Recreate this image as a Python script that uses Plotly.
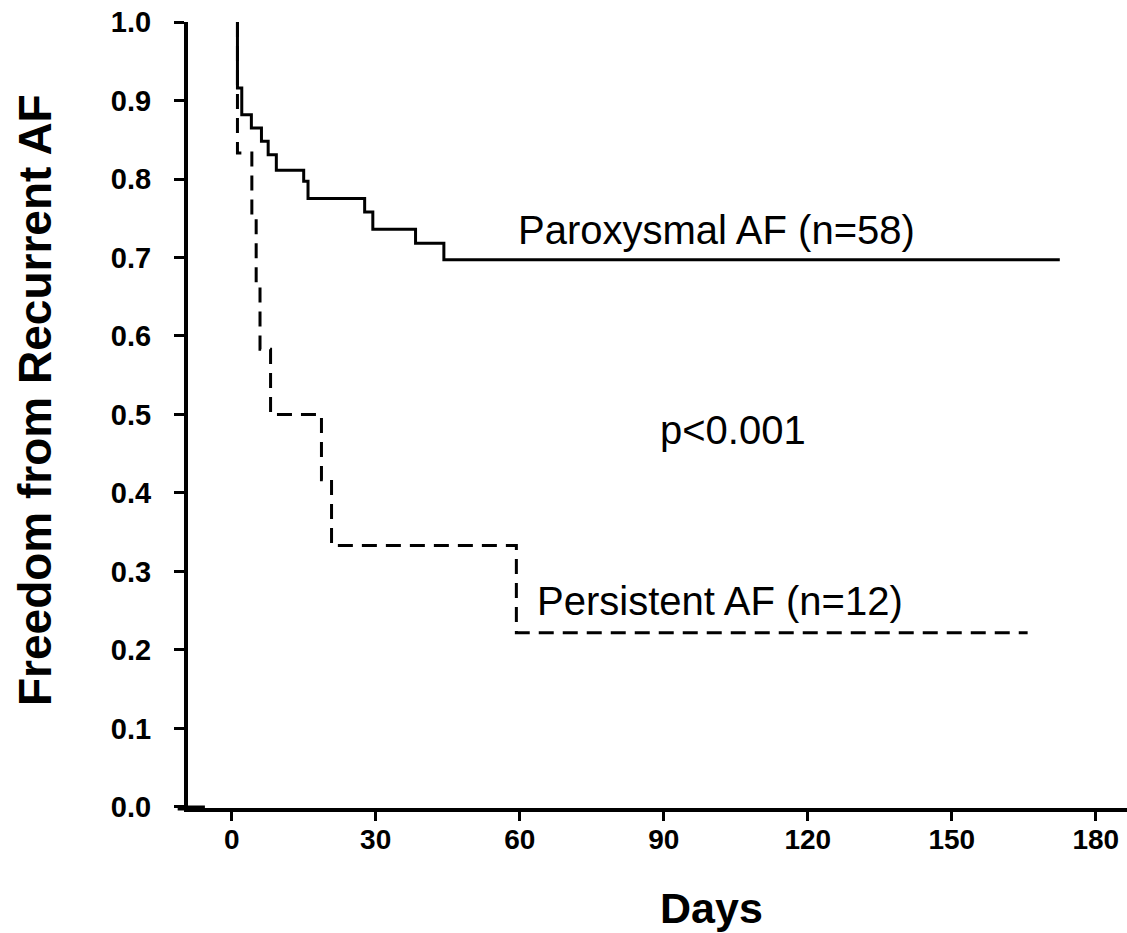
import plotly.graph_objects as go

# Paroxysmal AF (n=58) Kaplan-Meier steps (days, survival)
par_days = [1.2, 1.2, 2.1, 4.1, 6.2, 7.6, 9.3, 15.0, 15.9, 27.7, 29.4, 38.3, 44.2, 172.5]
par_surv = [1.0, 0.916, 0.882, 0.865, 0.848, 0.831, 0.811, 0.797, 0.775, 0.758, 0.736, 0.718, 0.697, 0.697]

# Persistent AF (n=12)
per_days = [1.2, 1.2, 4.2, 5.1, 5.9, 8.1, 18.7, 20.8, 59.3, 165.8]
per_surv = [1.0, 0.833, 0.75, 0.667, 0.583, 0.5, 0.417, 0.333, 0.222, 0.222]

x_ticks = [0, 30, 60, 90, 120, 150, 180]
y_ticks = [0.0, 0.1, 0.2, 0.3, 0.4, 0.5, 0.6, 0.7, 0.8, 0.9, 1.0]
y_ticktext = ["%.1f" % v for v in y_ticks]

FONT = "Liberation Sans, Arial, sans-serif"

fig = go.Figure()
fig.add_trace(go.Scatter(x=par_days, y=par_surv, mode="lines", line_shape="hv",
                         line=dict(color="black", width=3), name="Paroxysmal AF (n=58)"))
fig.add_trace(go.Scatter(x=per_days, y=per_surv, mode="lines", line_shape="hv",
                         line=dict(color="black", width=3, dash="15px,9px"), name="Persistent AF (n=12)"))

fig.update_layout(
    width=1127, height=933,
    margin=dict(l=188, r=0, t=22, b=125, autoexpand=False),
    paper_bgcolor="white", plot_bgcolor="white",
    showlegend=False,
    font=dict(family=FONT, color="black"),
)
fig.update_xaxes(range=[-9.1, 186.5], tickvals=x_ticks, showgrid=False, zeroline=False,
                 showline=True, linecolor="black", linewidth=4, automargin=False,
                 ticks="outside", ticklen=9, tickwidth=3, tickcolor="black",
                 tickfont=dict(size=28, family=FONT, weight="bold", color="black"),
                 ticklabelstandoff=-6)
fig.update_yaxes(range=[-0.0013, 1.0], tickvals=y_ticks, ticktext=y_ticktext, showgrid=False, zeroline=False,
                 showline=True, linecolor="black", linewidth=4, automargin=False,
                 ticks="outside", ticklen=10, tickwidth=3, tickcolor="black",
                 tickfont=dict(size=29, family=FONT, weight="bold", color="black"),
                 ticklabelstandoff=17)

# x-axis stub extending left of the y-axis
fig.add_shape(type="line", xref="paper", yref="paper", x0=-0.011, x1=0.018, y0=0, y1=0,
              line=dict(color="black", width=5))

anns = [
    dict(x=100.9, y=0.735, xref="x", yref="y", text="Paroxysmal AF (n=58)", font=dict(size=40)),
    dict(x=104.4, y=0.480, xref="x", yref="y", text="p<0.001", font=dict(size=40)),
    dict(x=101.7, y=0.262, xref="x", yref="y", text="Persistent AF (n=12)", font=dict(size=40)),
    dict(x=0.558, y=-0.127, xref="paper", yref="paper", text="<b>Days</b>", font=dict(size=43)),
    dict(x=-0.163, y=0.519, xref="paper", yref="paper", text="<b>Freedom from Recurrent AF</b>",
         textangle=-90, font=dict(size=46)),
]
for a in anns:
    a.update(showarrow=False, xanchor="center", yanchor="middle")
    a["font"].update(family=FONT, color="black")
    fig.add_annotation(**a)

fig.write_html("out.html", config={"displayModeBar": False},
               post_script="document.body.style.margin='0';document.body.style.padding='0';")
